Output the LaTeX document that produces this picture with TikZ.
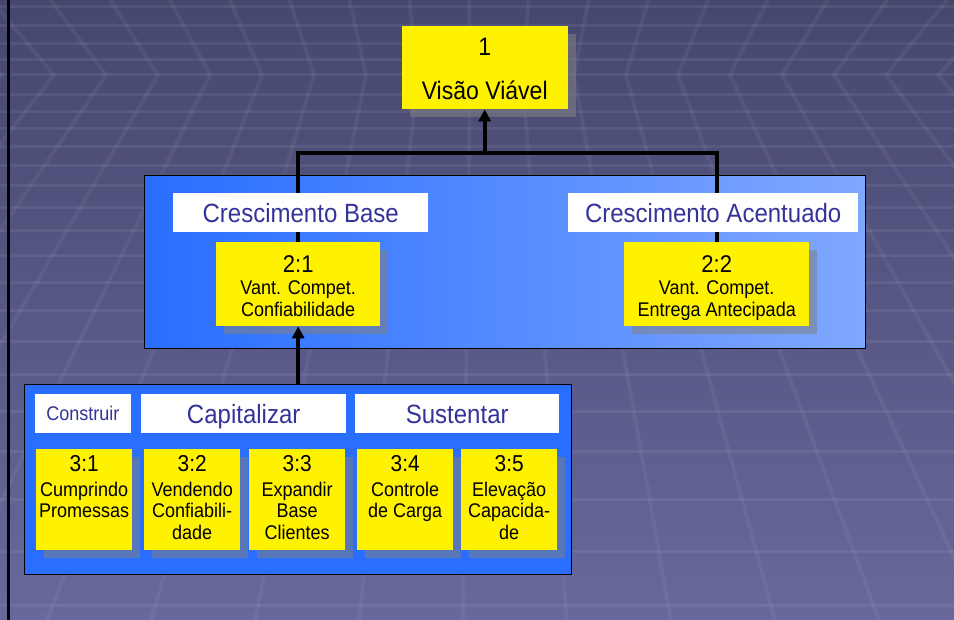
\documentclass[tikz,border=0pt]{standalone}
\usepackage{fontspec}
\setmainfont{Liberation Sans}[FakeStretch=0.91]
\usetikzlibrary{shadows,arrows.meta}

\definecolor{bgtop}{RGB}{70,71,110}
\definecolor{bgbot}{RGB}{104,104,156}
\definecolor{panelblue}{RGB}{41,110,255}
\definecolor{panellight}{RGB}{128,168,255}
\definecolor{headblue}{RGB}{51,51,153}

\tikzset{
  panel/.style={draw=black, line width=1.2pt, anchor=north west, inner sep=0pt},
  ybox/.style={fill=yellow, anchor=north west, inner sep=0pt,
    drop shadow={shadow xshift=8pt, shadow yshift=-8pt, fill=gray, opacity=.55}},
  ytxt/.style={anchor=north, align=center, inner sep=0pt, font=\fontsize{19.8}{21.4}\selectfont},
  hbox/.style={fill=white, anchor=north west, inner sep=0pt, text=headblue, minimum height=39pt,
    font=\fontsize{26.4}{26.4}\selectfont, text height=19pt, text depth=0pt},
  link/.style={line width=4pt},
  uplink/.style={line width=4pt, -{Triangle[width=12pt,length=12pt]}},
  texture/.style={white, opacity=.065, line width=3pt}
}

\begin{document}
\begin{tikzpicture}[x=1pt,y=-1pt]
\useasboundingbox (0,0) rectangle (954,620);
% background
\fill[top color=bgtop, bottom color=bgbot] (0,0) rectangle (954,620);
\begin{scope}
\clip (0,0) rectangle (954,620);
\foreach \y in {7,26,44,60,75,95,112,129,147,166,186,208,231,256,283,311,342,375,412,452,499,551,605}
  \draw[texture] (0,\y) -- (954,\y);
\foreach \a in {2,54,...,950}
  \draw[texture, opacity=.05, line width=4pt] ({477+1.15*(\a-477)},0) -- (\a,75) -- ({477+2*(\a-477)},620);
\end{scope}
\draw[line width=2.5pt] (8.5,0) -- (8.5,620);

% panels
\node[panel, left color=panelblue, right color=panellight, minimum width=721pt, minimum height=173pt] (mid) at (144,175) {};
\node[panel, fill=panelblue, minimum width=547pt, minimum height=190pt] (low) at (24,384) {};

% yellow boxes
\node[ybox, minimum width=166pt, minimum height=83pt] (v1) at (401.5,26) {};
\node[ytxt, font=\fontsize{25.3}{26}\selectfont] (t1) at ([yshift=-12.3pt]v1.north) {1\\[17.3pt]Visão Viável};

\node[ybox, minimum width=164pt, minimum height=84pt] (b21) at (216,242) {};
\node[ytxt, font=\fontsize{19.8}{21.8}\selectfont] (t21) at ([yshift=-13pt]b21.north)
  {{\fontsize{24.2}{24.2}\selectfont 2:1}\\[1pt]Vant. Compet.\\Confiabilidade};
\node[ybox, minimum width=185pt, minimum height=84pt] (b22) at (624,242) {};
\node[ytxt, font=\fontsize{19.8}{21.8}\selectfont] (t22) at ([yshift=-13pt]b22.north)
  {{\fontsize{24.2}{24.2}\selectfont 2:2}\\[1pt]Vant. Compet.\\Entrega Antecipada};

\foreach \n/\x/\txt in {1/36/{Cumprindo\\Promessas},
                        2/144/{Vendendo\\Confiabili-\\dade},
                        3/249/{Expandir\\Base\\Clientes},
                        4/357/{Controle\\de Carga},
                        5/461/{Elevação\\Capacida-\\de}}{
  \node[ybox, minimum width=96pt, minimum height=101pt] (b3\n) at (\x,449) {};
  \node[ytxt] (t3\n) at ([yshift=-6.2pt]b3\n.north) {{\fontsize{23}{23}\selectfont 3:\n}\\[3.6pt]\txt};
}

% connectors
\coordinate (fork) at (v1.south |- 0,153);
\draw[link] (b21.north) |- (fork) -| (b22.north);
\draw[uplink] (fork) -- (v1.south);
\draw[uplink] (b21.south |- low.north) -- (b21.south);

% headings
\node[hbox, minimum width=255pt] (hbase) at (173,193) {Crescimento Base};
\node[hbox, minimum width=290pt] (hacc) at (568,193) {Crescimento Acentuado};
\node[hbox, minimum width=95.5pt, font=\fontsize{19.8}{19.8}\selectfont, text height=14.2pt] (hbuild) at (35,394) {Construir};
\node[hbox, minimum width=205pt] (hcap) at (141,394) {Capitalizar};
\node[hbox, minimum width=204pt] (hsus) at (355,394) {Sustentar};
\end{tikzpicture}
\end{document}
